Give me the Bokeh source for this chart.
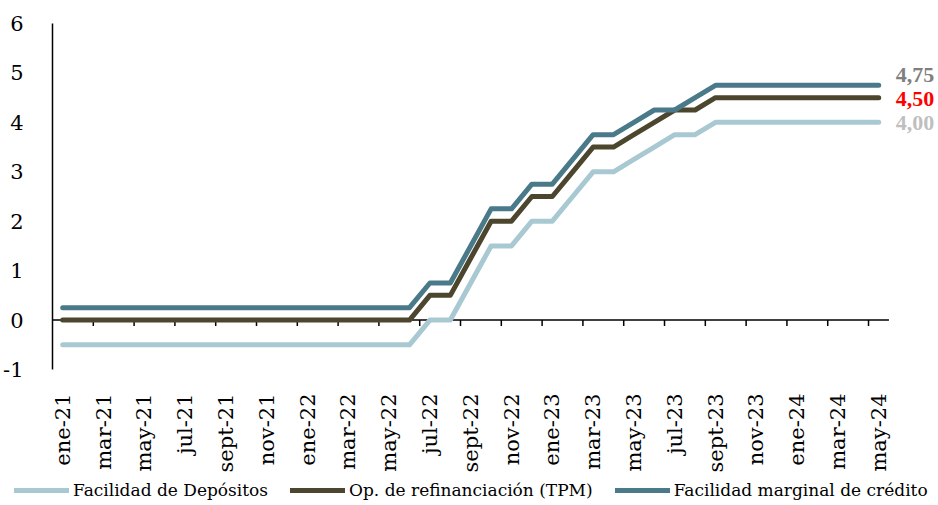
from bokeh.plotting import figure
from bokeh.layouts import column
from bokeh.models import Range1d, FixedTicker, Legend, LegendItem
from bokeh.embed import file_html
from bokeh.resources import INLINE
from bokeh.core.properties import value

months = ["ene-21", "feb-21", "mar-21", "abr-21", "may-21", "jun-21", "jul-21", "ago-21",
          "sept-21", "oct-21", "nov-21", "dic-21",
          "ene-22", "feb-22", "mar-22", "abr-22", "may-22", "jun-22", "jul-22", "ago-22",
          "sept-22", "oct-22", "nov-22", "dic-22",
          "ene-23", "feb-23", "mar-23", "abr-23", "may-23", "jun-23", "jul-23", "ago-23",
          "sept-23", "oct-23", "nov-23", "dic-23",
          "ene-24", "feb-24", "mar-24", "abr-24", "may-24"]

deposito = [-0.5, -0.5, -0.5, -0.5, -0.5, -0.5, -0.5, -0.5, -0.5, -0.5, -0.5, -0.5,
            -0.5, -0.5, -0.5, -0.5, -0.5, -0.5, 0.0, 0.0, 0.75, 1.5, 1.5, 2.0,
            2.0, 2.5, 3.0, 3.0, 3.25, 3.5, 3.75, 3.75, 4.0, 4.0, 4.0, 4.0,
            4.0, 4.0, 4.0, 4.0, 4.0]
refi = [0.0, 0.0, 0.0, 0.0, 0.0, 0.0, 0.0, 0.0, 0.0, 0.0, 0.0, 0.0,
        0.0, 0.0, 0.0, 0.0, 0.0, 0.0, 0.5, 0.5, 1.25, 2.0, 2.0, 2.5,
        2.5, 3.0, 3.5, 3.5, 3.75, 4.0, 4.25, 4.25, 4.5, 4.5, 4.5, 4.5,
        4.5, 4.5, 4.5, 4.5, 4.5]
marginal = [0.25, 0.25, 0.25, 0.25, 0.25, 0.25, 0.25, 0.25, 0.25, 0.25, 0.25, 0.25,
            0.25, 0.25, 0.25, 0.25, 0.25, 0.25, 0.75, 0.75, 1.5, 2.25, 2.25, 2.75,
            2.75, 3.25, 3.75, 3.75, 4.0, 4.25, 4.25, 4.5, 4.75, 4.75, 4.75, 4.75,
            4.75, 4.75, 4.75, 4.75, 4.75]

series_names = ["Facilidad de Depósitos", "Op. de refinanciación (TPM)", "Facilidad marginal de crédito"]
series_colors = ["#A9C9D2", "#4B462D", "#4A7A8A"]
end_labels = ["4,00", "4,50", "4,75"]
end_colors = ["#BFBFBF", "#FF0000", "#7F7F7F"]
end_yoff = [1, 1, -10]
y_ticks = [-1, 0, 1, 2, 3, 4, 5, 6]

FONT = "DejaVu Serif"
x = list(range(len(months)))

p = figure(width=938, height=475, output_backend="svg", toolbar_location=None,
           x_range=Range1d(-0.5, 42.93), y_range=Range1d(-1, 6),
           min_border_left=52, min_border_right=0, min_border_top=23, min_border_bottom=100)
p.frame_align = False
p.outline_line_color = None
p.xgrid.grid_line_color = None
p.ygrid.grid_line_color = None
p.background_fill_color = "white"
p.border_fill_color = "white"

# y axis
p.yaxis.ticker = FixedTicker(ticks=y_ticks)
p.yaxis.major_label_overrides = {t: str(t) for t in y_ticks}
p.yaxis.axis_line_color = "black"
p.yaxis.axis_line_width = 1.5
p.yaxis.major_tick_line_color = None
p.yaxis.minor_tick_line_color = None
p.yaxis.major_label_standoff = 23
p.yaxis.major_label_text_font = FONT
p.yaxis.major_label_text_font_size = "21px"
p.yaxis.major_label_text_color = "black"

# x axis (labels only)
p.xaxis.ticker = FixedTicker(ticks=x[::2])
p.xaxis.major_label_overrides = {i: months[i] for i in x[::2]}
p.xaxis.major_label_orientation = 3.14159265 / 2
p.xaxis.axis_line_color = None
p.xaxis.major_tick_line_color = None
p.xaxis.minor_tick_line_color = None
p.xaxis.major_label_standoff = 18
p.xaxis.major_label_text_font = FONT
p.xaxis.major_label_text_font_size = "21px"
p.xaxis.major_label_text_color = "black"

# horizontal axis line at zero with ticks between category pairs
p.segment(x0=[x[0] - 0.5], y0=[0], x1=[x[-1] + 0.5], y1=[0], line_color="black", line_width=1.5)
tick_x = [i - 0.5 for i in x[2::2]]
p.segment(x0=tick_x, y0=[0] * len(tick_x), x1=tick_x, y1=[-0.12] * len(tick_x),
          line_color="black", line_width=1.5)

for ys, col in zip([deposito, refi, marginal], series_colors):
    p.line(x, ys, line_color=col, line_width=5, line_cap="round", line_join="round")

for ys, lab, col, off in zip([deposito, refi, marginal], end_labels, end_colors, end_yoff):
    p.text(x=[x[-1]], y=[ys[-1]], text=[lab], x_offset=17, y_offset=off,
           text_font=value("Liberation Serif"), text_font_size="22px", text_font_style="bold",
           text_color=col, text_baseline="middle", text_align="left")

# legend strip (series drawn out of view; only their legend samples show)
pl = figure(width=938, height=30, output_backend="svg", toolbar_location=None,
            x_axis_location=None, y_axis_location=None,
            x_range=Range1d(-0.5, 42.93), y_range=Range1d(100, 101),
            min_border_left=0, min_border_right=0, min_border_top=0, min_border_bottom=0)
pl.frame_align = False
pl.outline_line_color = None
pl.xgrid.grid_line_color = None
pl.ygrid.grid_line_color = None
items = []
for name, ys, col in zip(series_names, [deposito, refi, marginal], series_colors):
    r = pl.line(x, ys, line_color=col, line_width=5, line_cap="round")
    items.append(LegendItem(label=name, renderers=[r]))
legend = Legend(items=items, orientation="horizontal", location=(14, 5),
                label_text_font=FONT, label_text_font_size="17px", label_text_color="black",
                glyph_width=55, glyph_height=20, label_height=20, label_standoff=4, spacing=22,
                padding=0, margin=0, border_line_color=None, background_fill_alpha=0)
pl.add_layout(legend)

layout = column(p, pl, spacing=0)
open("out.html", "w").write(file_html(layout, INLINE))
